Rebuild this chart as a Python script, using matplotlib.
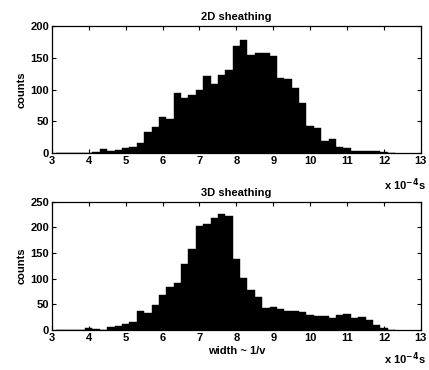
import numpy as np
import matplotlib
matplotlib.use("Agg")
import matplotlib.pyplot as plt

# histogram bins (width 0.2, in units of 1e-4 s)
bin_edges = np.round(np.arange(3.1, 12.31, 0.2), 1)

counts_2d = [1, 1, 1, 1, 1, 2, 6, 3, 5, 8,
             10, 16, 33, 41, 57, 54, 95, 87, 92, 100,
             121, 108, 123, 130, 168, 178, 154, 158, 157, 152,
             118, 117, 102, 79, 43, 40, 19, 23, 9, 8,
             4, 3, 3, 4, 2, 0]

counts_3d = [0, 0, 0, 1, 3, 2, 0, 5, 8, 11,
             16, 37, 34, 49, 69, 84, 92, 128, 157, 202,
             207, 219, 225, 222, 138, 102, 78, 65, 42, 45,
             40, 38, 37, 36, 29, 27, 28, 23, 30, 31,
             24, 25, 20, 10, 3, 0]

x_ticks = [3, 4, 5, 6, 7, 8, 9, 10, 11, 12, 13]

plt.rcParams["font.family"] = ["Liberation Sans", "DejaVu Sans"]
plt.rcParams["font.size"] = 8
plt.rcParams["font.weight"] = "bold"

fig = plt.figure(figsize=(4.29, 3.70), dpi=100)
ax1 = fig.add_axes([0.121, 0.586, 0.860, 0.344])
ax2 = fig.add_axes([0.121, 0.108, 0.860, 0.347])


def draw(ax, counts, ymax, yticks, title, unit_y):
    ax.bar(bin_edges[:-1], counts, width=0.2, align="edge", color="black",
           edgecolor="black", linewidth=0.3)
    ax.axhline(0.6, xmin=0.01, xmax=0.93, color="black", linewidth=0.8)
    ax.set_xlim(3, 13)
    ax.set_ylim(0, ymax)
    ax.set_xticks(x_ticks)
    ax.set_yticks(yticks)
    ax.tick_params(direction="in", top=True, right=True, length=3,
                   width=0.8, labelsize=8, pad=2)
    for s in ax.spines.values():
        s.set_linewidth(0.9)
    ax.set_ylabel("counts", fontsize=8, fontweight="bold", labelpad=3)
    ax.set_title(title, fontsize=8, fontweight="bold", pad=4)
    ax.text(1.012, unit_y, r"x 10$^{-4}$s", transform=ax.transAxes,
            ha="right", va="center", fontsize=8, fontweight="bold")


draw(ax1, counts_2d, 200, [0, 50, 100, 150, 200], "2D sheathing", -0.25)
draw(ax2, counts_3d, 250, [0, 50, 100, 150, 200, 250], "3D sheathing", -0.22)
ax2.set_xlabel("width ~ 1/v", fontsize=8, fontweight="bold", labelpad=2)

fig.savefig("out.png", dpi=100)
